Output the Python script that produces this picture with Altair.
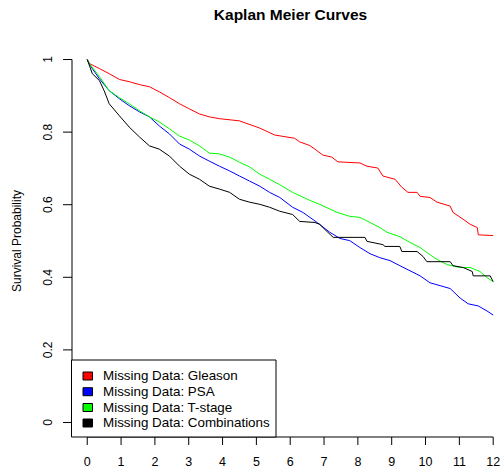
import altair as alt
import pandas as pd

# Kaplan-Meier survival estimates by missing-data group (time in years)
gleason_t = [0, 0.06, 0.36, 0.65, 0.95, 1.24, 1.54, 1.84, 2.13, 2.43, 2.73, 3.02, 3.32, 3.61, 3.91,
             4.50, 5.10, 5.54, 6.13, 6.28, 6.58, 6.73, 6.96, 7.23, 7.41, 8.06, 8.27, 8.59, 8.74, 9.10,
             9.30, 9.48, 9.75, 9.84, 10.13, 10.34, 10.73, 10.81, 11.11, 11.32, 11.53, 11.56, 12.0]
gleason_s = [1, 0.989, 0.975, 0.961, 0.945, 0.939, 0.931, 0.925, 0.911, 0.895, 0.878, 0.864, 0.850,
             0.842, 0.837, 0.831, 0.811, 0.792, 0.783, 0.773, 0.763, 0.753, 0.737, 0.731, 0.718, 0.715,
             0.706, 0.701, 0.679, 0.670, 0.648, 0.634, 0.634, 0.623, 0.620, 0.607, 0.596, 0.579, 0.560,
             0.546, 0.537, 0.517, 0.515]

psa_t = [0, 0.06, 0.15, 0.36, 0.65, 0.95, 1.24, 1.54, 1.84, 2.13, 2.43, 2.73, 3.02, 3.32, 3.61, 3.91,
         4.21, 4.50, 4.80, 5.10, 5.39, 5.69, 6.07, 6.37, 6.81, 7.17, 7.47, 7.76, 8.06, 8.36, 8.65, 8.95,
         9.24, 9.54, 9.84, 10.13, 10.43, 10.73, 11.02, 11.26, 11.56, 11.82, 12.0]
psa_s = [1, 0.989, 0.975, 0.947, 0.914, 0.892, 0.873, 0.856, 0.842, 0.817, 0.795, 0.767, 0.753, 0.734,
         0.720, 0.706, 0.693, 0.679, 0.665, 0.651, 0.634, 0.620, 0.593, 0.579, 0.550, 0.524, 0.507,
         0.501, 0.482, 0.465, 0.454, 0.446, 0.432, 0.418, 0.404, 0.385, 0.377, 0.369, 0.343, 0.327,
         0.321, 0.307, 0.296]

tstage_t = [0, 0.06, 0.36, 0.65, 0.95, 1.24, 1.54, 1.84, 2.13, 2.43, 2.73, 3.02, 3.32, 3.61, 3.91,
            4.21, 4.50, 4.80, 5.10, 5.39, 5.69, 6.07, 6.58, 6.87, 7.38, 7.76, 8.06, 8.36, 8.65, 8.86,
            9.24, 9.54, 9.84, 10.04, 10.34, 10.64, 11.02, 11.32, 11.61, 11.82, 12.0]
tstage_s = [1, 0.989, 0.953, 0.914, 0.895, 0.878, 0.859, 0.842, 0.828, 0.809, 0.789, 0.778, 0.762,
            0.742, 0.740, 0.731, 0.717, 0.704, 0.684, 0.670, 0.655, 0.634, 0.612, 0.601, 0.579, 0.568,
            0.565, 0.551, 0.537, 0.524, 0.512, 0.496, 0.482, 0.468, 0.449, 0.435, 0.427, 0.427, 0.416,
            0.399, 0.388]

combo_t = [0, 0.15, 0.36, 0.50, 0.65, 0.95, 1.24, 1.54, 1.84, 2.13, 2.43, 2.73, 3.02, 3.32, 3.61,
           3.91, 4.21, 4.50, 4.80, 5.10, 5.39, 5.69, 6.07, 6.28, 6.73, 6.87, 7.09, 7.27, 8.21, 8.27,
           8.74, 8.80, 9.24, 9.30, 9.75, 9.93, 10.04, 10.73, 10.81, 11.11, 11.38, 11.41, 11.91, 12.0]
combo_s = [1, 0.961, 0.942, 0.914, 0.878, 0.845, 0.814, 0.787, 0.762, 0.753, 0.734, 0.706, 0.684,
           0.670, 0.651, 0.643, 0.634, 0.615, 0.607, 0.601, 0.593, 0.582, 0.573, 0.554, 0.551, 0.546,
           0.526, 0.510, 0.510, 0.499, 0.490, 0.485, 0.485, 0.471, 0.471, 0.457, 0.443, 0.443, 0.432,
           0.427, 0.416, 0.404, 0.404, 0.388]

groups = ["Missing Data: Gleason", "Missing Data: PSA", "Missing Data: T-stage",
          "Missing Data: Combinations"]
colors = ["#FF0000", "#0000FF", "#00FF00", "#000000"]

x_ticks = list(range(0, 13))
y_ticks = [0, 0.2, 0.4, 0.6, 0.8, 1]
y_tick_labels = ["0", "0.2", "0.4", "0.6", "0.8", "1"]

FONT = "Liberation Sans"

rows = []
for order, (g, ts, ss) in enumerate(zip(groups,
                                        [gleason_t, psa_t, tstage_t, combo_t],
                                        [gleason_s, psa_s, tstage_s, combo_s])):
    for t, s in zip(ts, ss):
        rows.append({"group": g, "order": order, "time": t, "surv": s})
curves = pd.DataFrame(rows)

xscale = alt.Scale(domain=[-0.48, 12.29], nice=False, zero=False)
yscale = alt.Scale(domain=[-0.04, 1.04], nice=False, zero=False)

lines = alt.Chart(curves).mark_line(strokeWidth=1, interpolate="linear").encode(
    x=alt.X("time:Q", scale=xscale, axis=None),
    y=alt.Y("surv:Q", scale=yscale, axis=None),
    color=alt.Color("group:N", scale=alt.Scale(domain=groups, range=colors), legend=None),
    detail="order:O",
)

# R-style axes: lines span only the first to last tick
ylim = pd.DataFrame({"lo": [0.0], "hi": [1.0], "x0": [0.0], "x1": [12.0]})
y_line = alt.Chart(ylim).mark_rule(color="black", strokeWidth=1).encode(
    x=alt.value(1), y=alt.Y("lo:Q", scale=yscale, axis=None), y2="hi:Q")
x_line = alt.Chart(ylim).mark_rule(color="black", strokeWidth=1).encode(
    y=alt.value(392), x=alt.X("x0:Q", scale=xscale, axis=None), x2="x1:Q")

yt = pd.DataFrame({"v": y_ticks, "lab": y_tick_labels})
y_tick_marks = alt.Chart(yt).mark_rule(color="black", strokeWidth=1).encode(
    y=alt.Y("v:Q", scale=yscale, axis=None), x=alt.value(-8), x2=alt.value(1))
y_tick_text = alt.Chart(yt).mark_text(font=FONT, fontSize=12, angle=270, align="center",
                                      baseline="middle", color="black").encode(
    y=alt.Y("v:Q", scale=yscale, axis=None), x=alt.value(-23.5), text="lab:N")

xt = pd.DataFrame({"v": x_ticks, "lab": [str(v) for v in x_ticks]})
x_tick_marks = alt.Chart(xt).mark_rule(color="black", strokeWidth=1).encode(
    x=alt.X("v:Q", scale=xscale, axis=None), y=alt.value(392), y2=alt.value(400))
x_tick_text = alt.Chart(xt).mark_text(font=FONT, fontSize=12.5, align="center",
                                      baseline="middle", color="black").encode(
    x=alt.X("v:Q", scale=xscale, axis=None), y=alt.value(416.5), text="lab:N")

# Legend box in the lower-left corner
legend_box = alt.Chart(pd.DataFrame({"k": [0]})).mark_rect(
    fill="white", stroke="black", strokeWidth=1).encode(
    x=alt.value(0.5), x2=alt.value(205), y=alt.value(315), y2=alt.value(392))
leg = pd.DataFrame({"label": groups, "col": colors, "ly": [331, 346.7, 362.5, 378]})
leg["ly0"] = leg["ly"] - 4
leg["ly1"] = leg["ly"] + 4
legend_swatch = alt.Chart(leg).mark_rect(stroke="black", strokeWidth=1).encode(
    x=alt.value(12), x2=alt.value(21.5),
    y=alt.Y("ly0:Q", scale=None, axis=None), y2="ly1:Q",
    fill=alt.Color("col:N", scale=None, legend=None))
legend_text = alt.Chart(leg).mark_text(font=FONT, fontSize=13.4, align="left",
                                       baseline="middle", color="black").encode(
    x=alt.value(32), y=alt.Y("ly:Q", scale=None, axis=None), text="label:N")

title = alt.Chart(pd.DataFrame({"t": ["Kaplan Meier Curves"]})).mark_text(
    font=FONT, fontSize=15.5, fontWeight="bold", align="center", baseline="alphabetic",
    color="black").encode(x=alt.value(219.5), y=alt.value(-25), text="t:N")
y_title = alt.Chart(pd.DataFrame({"t": ["Survival Probability"]})).mark_text(
    font=FONT, fontSize=12, angle=270, align="center", baseline="middle",
    color="black").encode(x=alt.value(-54), y=alt.value(196), text="t:N")

chart = alt.layer(
    lines, y_line, x_line, y_tick_marks, y_tick_text, x_tick_marks, x_tick_text,
    legend_box, legend_swatch, legend_text, title, y_title,
).properties(
    width=432, height=392,
    padding={"left": 71, "top": 45, "right": 0, "bottom": 33},
    autosize=alt.AutoSizeParams(type="none"),
    background="white",
).configure_view(stroke=None)

chart.save("out.html", embed_options={"renderer": "svg", "actions": False})
